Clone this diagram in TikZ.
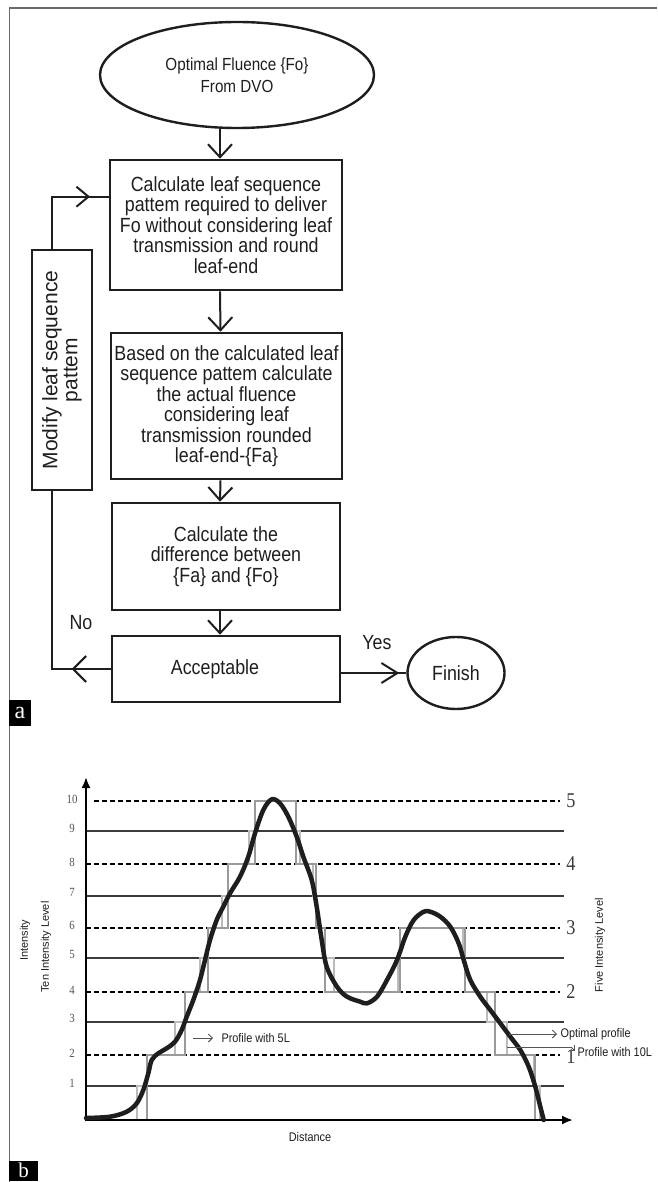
\documentclass[tikz,border=0pt]{standalone}
\usepackage{fontspec}
\setmainfont{Liberation Sans}
\newfontfamily\cf[FakeStretch=0.87]{Liberation Sans}
\newfontfamily\cfs[FakeStretch=0.87]{Liberation Serif}
\newfontfamily\serifn{Liberation Serif}
\usetikzlibrary{arrows.meta,shapes.geometric,decorations.markings}
\definecolor{ink}{HTML}{1E1E1E}
\definecolor{lvl}{HTML}{3C3C3C}
\definecolor{fiveL}{HTML}{9A9A9A}
\definecolor{tenL}{HTML}{BBBBBB}
\definecolor{framec}{HTML}{6A6A6A}
\definecolor{note}{HTML}{555555}
\tikzset{
  vbarb/.tip={Straight Barb[length=13pt,width=24pt]},
  box/.style={draw=ink, line width=2.6pt, align=center, inner sep=2pt, text=ink,
    font={\cf\fontsize{20.5}{20.5}\selectfont}},
  oval/.style={ellipse, draw=ink, line width=2.4pt, align=center, inner sep=0pt, text=ink},
  conn/.style={draw=ink, line width=2pt},
  lbl/.style={text=ink, font={\cf\fontsize{20.5}{20.5}\selectfont}},
  solidlvl/.style={draw=lvl, line width=1.6pt},
  dashlvl/.style={draw=black, line width=1.6pt, dash pattern=on 5pt off 3pt},
  numl/.style={text=note, font={\cfs\fontsize{12.5}{12.5}\selectfont}},
  numr/.style={text=lvl, font={\cfs\fontsize{21}{21}\selectfont}},
  chartlbl/.style={text=ink, font={\cf\fontsize{12.5}{12.5}\selectfont}},
  rotlbl/.style={text=ink, rotate=90, font={\fontsize{11}{11}\selectfont}},
  notearrow/.style={draw=note, line width=1pt, -{Straight Barb[length=4pt,width=8pt]}},
  tagbox/.style={fill=black, text=white, inner sep=0pt}
}
\begin{document}
\begin{tikzpicture}[x=1pt,y=-1pt]
\useasboundingbox (0,0) rectangle (657,1182);
% frame
\draw[draw=framec, line width=1.5pt] (657,8) -- (9.5,8) -- (9.5,1182);

% ---------- part a ----------
\node[oval, minimum width=274pt, minimum height=106pt,
  font={\cf\fontsize{17.5}{22}\selectfont}] (ell) at (237,75) {Optimal Fluence \{Fo\}\\From DVO};
\node[box, minimum width=232pt, minimum height=130pt] (b1) at (226,225)
  {Calculate leaf sequence\\pattem required to deliver\\Fo without considering leaf\\transmission and round\\leaf-end};
\node[box, minimum width=231pt, minimum height=146pt] (b2) at (226.5,406)
  {Based on the calculated leaf\\sequence pattem calculate\\the actual fluence\\considering leaf\\transmission rounded\\leaf-end-\{Fa\}};
\node[box, minimum width=228pt, minimum height=107pt] (b3) at (226,556.5)
  {Calculate the\\difference between\\\{Fa\} and \{Fo\}};
\node[box, minimum width=228pt, minimum height=66pt] (acc) at (226,669)
  {Acceptable\hspace*{22pt}};
\node[oval, minimum width=97pt, minimum height=72pt,
  font={\cf\fontsize{20.5}{20.5}\selectfont}] (fin) at (456,673) {Finish};
\node[box, rotate=90, minimum width=240pt, minimum height=60pt,
  font={\fontsize{21}{20}\selectfont}] (mod) at (62,370) {Modify leaf sequence\\pattem};
\node[lbl] (no) at (81,623) {No};
\node[lbl] (yes) at (377,643) {Yes};

\coordinate (a0) at ([xshift=-6pt]b1.north);
\draw[conn, -{vbarb}] (a0 |- ell.south) -- (a0);
\draw[conn, -{vbarb}] ([xshift=-6pt]b1.south) -- ([xshift=-6pt]b2.north);
\draw[conn, -{vbarb}] ([xshift=-6pt]b2.south) -- ([xshift=-6pt]b3.north);
\draw[conn, -{vbarb}] ([xshift=-6pt]b3.south) -- ([xshift=-6pt]acc.north);

\coordinate (mb) at ([xshift=-10pt]mod.west);
\coordinate (mt) at ([xshift=-10pt]mod.east);
\coordinate (b1in) at ([yshift=-38pt]b1.north west);
\draw[conn, postaction={decorate, decoration={markings,
  mark=at position 39pt with {\arrow{Straight Barb[length=13pt,width=26pt]}}}}]
  (acc.west) -- (mb |- acc.west) -- (mb);
\draw[conn, postaction={decorate, decoration={markings,
  mark=at position 90pt with {\arrow{Straight Barb[length=12pt,width=20pt]}}}}]
  (mt) |- (b1in);
\draw[conn, postaction={decorate, decoration={markings,
  mark=at position 58pt with {\arrow{Straight Barb[length=16pt,width=20pt]}}}}]
  (acc.east |- fin.west) -- (fin.west);

\node[tagbox, minimum width=22pt, minimum height=26pt,
  font={\serifn\fontsize{24}{24}\selectfont}] (taga) at (20,713) {a};

% ---------- part b ----------
\foreach \y [count=\i] in {1086,1022,958,896,831}
  \draw[solidlvl] (86,\y) -- (564,\y);
\foreach \y in {1055,992,928,864}
  \draw[dashlvl] (86,\y) -- (560,\y);
\draw[dashlvl] (94,801) -- (560,801);

% 10L profile
\draw[draw=tenL, line width=2.2pt, line join=miter] (86,1120) -- (137,1120) -- (137,1086) -- (147,1086) -- (147,1055)
 -- (175,1055) -- (175,1022) -- (185,1022) -- (185,992) -- (200,992) -- (200,958) -- (208,958) -- (208,928)
 -- (222,928) -- (222,896) -- (228,896) -- (228,864) -- (249,864) -- (249,831) -- (255,831) -- (255,801)
 -- (296,801) -- (296,831) -- (300,831) -- (300,864) -- (313,864) -- (313,896) -- (316,896) -- (316,928)
 -- (325,928) -- (325,958) -- (334,958) -- (334,992) -- (398,992) -- (398,958) -- (400,958) -- (400,928)
 -- (463,928) -- (463,958) -- (465,958) -- (465,992) -- (487,992) -- (487,1022) -- (507,1022) -- (507,1055)
 -- (534,1055) -- (534,1086) -- (540,1086) -- (540,1120);
% 5L profile
\draw[draw=fiveL, line width=2.6pt, line join=miter] (86,1120) -- (147,1120) -- (147,1055) -- (185,1055) -- (185,992)
 -- (208,992) -- (208,928) -- (228,928) -- (228,864) -- (255,864) -- (255,801) -- (296,801) -- (296,864)
 -- (316,864) -- (316,928) -- (325,928) -- (325,992) -- (400,992) -- (400,928) -- (465,928) -- (465,992)
 -- (495,992) -- (495,1055) -- (535,1055) -- (535,1120);

% axes
\draw[draw=black, line width=2pt, -{Latex[length=11pt,width=9pt]}] (86,1121) -- (86,777);
\draw[draw=black, line width=2pt, -{Latex[length=11pt,width=9pt]}] (86,1120) -- (573,1120);

% optimal profile
\draw[draw=ink, line width=4.5pt, line cap=round, line join=round] plot[smooth, tension=0.55] coordinates {
(86,1118) (110,1116.7) (126.7,1111.7) (136.7,1103.3) (143.3,1090) (148.3,1073.3) (151.7,1060)
(158.3,1053.3) (166.7,1048.3) (175,1041.7) (181.7,1030) (186.7,1016.7) (193.3,1000) (200,980)
(205,960) (210,940) (216.7,920) (223.3,906.7) (230,893.3) (240,876.7) (248.3,856.7) (255,833.3)
(263.3,810) (271.7,799.3) (280,803.3) (288.3,816.7) (296.7,836.7) (303.3,856.7) (311.7,880)
(316.7,906.7) (321.7,940) (326.7,966.7) (337,986.7) (347,996.7) (360.3,1001.7) (367,1003.3)
(377,996.7) (387,980) (397,960) (405.3,936.7) (413.7,920) (423.7,911.7) (430.3,911.7)
(440.3,916.7) (450.3,926.7) (458.7,943.3) (463.7,960) (470.3,980) (480.3,996.7) (490.3,1010)
(500.3,1023.3) (510.3,1036.7) (520.3,1050) (528.7,1066.7) (535.3,1086.7) (540.3,1106.7) (543.7,1120)};

% level numbers
\foreach \t/\y in {10/799,9/828,8/862,7/892,6/925,5/954,4/990,3/1018,2/1053,1/1083}
  \node[numl] (nl\t) at (72,\y) {\t};
\foreach \t/\y in {5/801,4/864,3/928,2/992,1/1057}
  \node[numr] (nr\t) at (571,\y) {\t};

% axis labels
\node[rotlbl] (yint) at (25,940) {Intensity};
\node[rotlbl] (yten) at (46,947) {Ten Intensity Level};
\node[rotlbl] (yfive) at (600,945) {Five Intensity Level};
\node[chartlbl] (xdist) at (310,1137) {Distance};

% annotations
\draw[notearrow] (193,1038) -- (213,1038);
\node[chartlbl, anchor=west] (p5) at (218,1038) {Profile with 5L};
\draw[notearrow] (509,1034) -- (557,1034);
\node[chartlbl, anchor=west] (popt) at (557,1034) {Optimal profile};
\draw[draw=note, line width=1pt] (507,1047) -- (571,1047);
\draw[notearrow] (571,1047) -- (575,1051);
\node[chartlbl, anchor=west] (p10) at (574,1052) {Profile with 10L};

\node[tagbox, minimum width=29pt, minimum height=20pt,
  font={\serifn\fontsize{21}{21}\selectfont}] (tagb) at (23.5,1170.5) {b};
\end{tikzpicture}
\end{document}
